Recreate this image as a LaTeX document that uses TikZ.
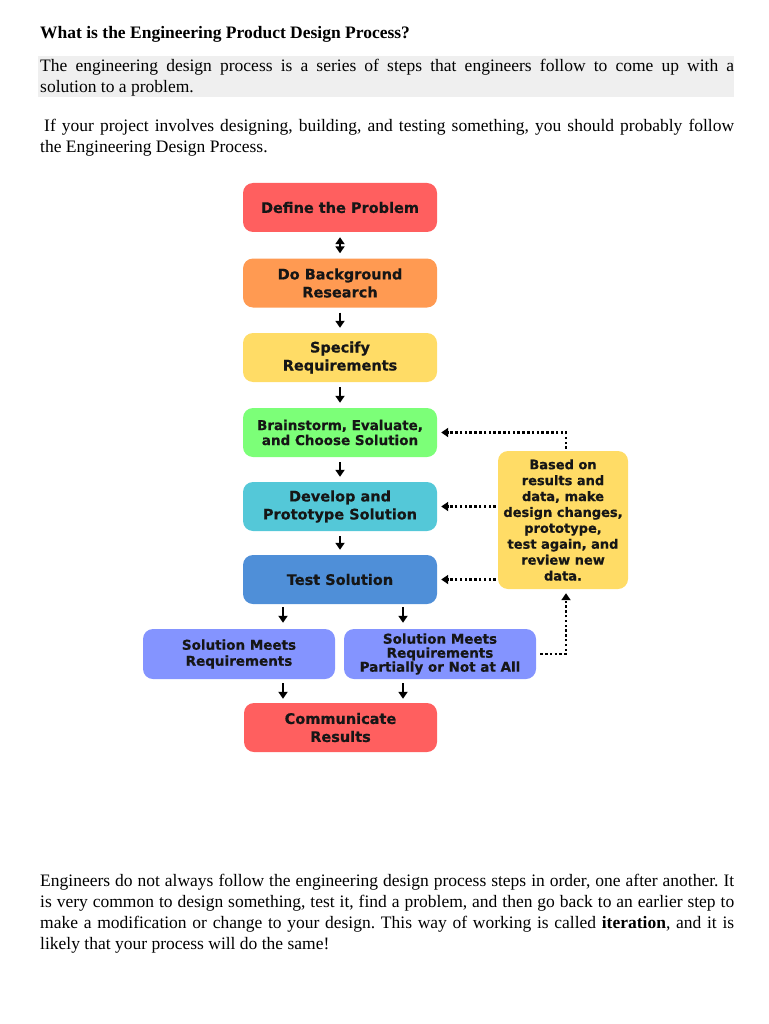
\documentclass[tikz,border=0pt]{standalone}
\usepackage{fontspec}
\setmainfont{Liberation Serif}
\newfontfamily\vfont{DejaVu Sans}[BoldFeatures={FakeBold=0.6}]
\usetikzlibrary{arrows.meta}
\definecolor{cRed}{HTML}{FF5F5F}
\definecolor{cOrange}{HTML}{FF9A52}
\definecolor{cYellow}{HTML}{FFDC66}
\definecolor{cGreen}{HTML}{7CFF78}
\definecolor{cCyan}{HTML}{54C8D8}
\definecolor{cBlue}{HTML}{4F8FD8}
\definecolor{cPeri}{HTML}{8494FF}
\definecolor{cBand}{HTML}{EFEFEF}
\definecolor{cText}{HTML}{161616}
\begin{document}
\frenchspacing
\begin{tikzpicture}[x=1pt,y=-1pt,
  stepbox/.style={fill=#1, rounded corners=10pt, minimum width=194pt, minimum height=49pt,
    inner sep=0pt, align=center, text=cText,
    font=\vfont\bfseries\fontsize{14.5}{18}\selectfont},
  smallbox/.style={stepbox=#1, font=\vfont\bfseries\fontsize{13.5}{15}\selectfont},
  outbox/.style={stepbox=#1, minimum width=192pt, minimum height=50pt},
  arr/.style={line width=2.2pt, -{Triangle[width=9pt,length=7pt]}, shorten <=5pt, shorten >=5pt},
  dots/.style={line width=2.5pt, dash pattern=on 2.5pt off 2.3pt, -{Triangle[width=9pt,length=7pt]}},
  bodyline/.style={anchor=base west, inner sep=0pt, font=\fontsize{17.5}{21}\selectfont}
]
\useasboundingbox (0,0) rectangle (768,1024);

% ---- text above ----
\node[bodyline] (title) at (40,39) {\textbf{What is the Engineering Product Design Process?}};
\fill[cBand] (38,56) rectangle (734,97);
\node[bodyline] (p1a) at (40,72) {\makebox[694pt][s]{The engineering design process is a series of steps that engineers follow to come up with a}};
\node[bodyline] (p1b) at (40,93) {solution to a problem.};
\node[bodyline] (p2a) at (40,132) {\makebox[694pt][s]{\hspace{4pt}If your project involves designing, building, and testing something, you should probably follow}};
\node[bodyline] (p2b) at (40,153) {the Engineering Design Process.};

% ---- diagram ----
\node[stepbox=cRed] (DP) at (340,207.5) {Define the Problem};
\node[stepbox=cOrange] (BG) at (340,283) {Do Background\\Research};
\node[stepbox=cYellow] (SR) at (340,357.5) {Specify\\Requirements};
\node[smallbox=cGreen] (BR) at (340,432.5) {Brainstorm, Evaluate,\\and Choose Solution};
\node[stepbox=cCyan] (DV) at (340,506.5) {Develop and\\Prototype Solution};
\node[stepbox=cBlue] (TS) at (340,579.5) {Test Solution};
\node[outbox=cPeri, font=\vfont\bfseries\fontsize{13.5}{16}\selectfont] (SM) at (239,654) {Solution Meets\\Requirements};
\node[outbox=cPeri, font=\vfont\bfseries\fontsize{13.5}{14}\selectfont] (SP) at (440,654) {Solution Meets\\Requirements\\Partially or Not at All};
\node[stepbox=cRed, minimum width=193pt] (CR) at (340.5,727.5) {Communicate\\Results};
\node[stepbox=cYellow, minimum width=130pt, minimum height=138pt,
      font=\vfont\bfseries\fontsize{13}{15.9}\selectfont] (BA) at (563,520)
  {Based on\\results and\\data, make\\design changes,\\prototype,\\test again, and\\review new\\data.};

\coordinate (xl) at (283,0);
\coordinate (xr) at (403,0);
\coordinate (xd) at (566,0);

\draw[arr, {Triangle[width=9pt,length=7pt]}-{Triangle[width=9pt,length=7pt]}] (DP) -- (BG);
\draw[arr] (BG) -- (SR);
\draw[arr] (SR) -- (BR);
\draw[arr] (BR) -- (DV);
\draw[arr] (DV) -- (TS);
\draw[arr, shorten <=3pt, shorten >=6pt] (TS.south -| xl) -- (SM.north -| xl);
\draw[arr, shorten <=3pt, shorten >=6pt] (TS.south -| xr) -- (SP.north -| xr);
\draw[arr, shorten <=4pt, shorten >=4pt] (SM.south -| xl) -- (CR.north -| xl);
\draw[arr, shorten <=4pt, shorten >=4pt] (SP.south -| xr) -- (CR.north -| xr);

\draw[dots, shorten <=2pt, shorten >=4pt] (BA.north -| xd) |- (BR.east);
\draw[dots, shorten <=2pt, shorten >=4pt] (BA.west |- DV.east) -- (DV.east);
\draw[dots, shorten <=2pt, shorten >=4pt] (BA.west |- TS.east) -- (TS.east);
\draw[dots, shorten <=4pt, shorten >=4pt] (SP.east) -| (BA.south -| xd);

% ---- text below ----
\node[bodyline] (p3a) at (40,886) {\makebox[694pt][s]{Engineers do not always follow the engineering design process steps in order, one after another. It}};
\node[bodyline] (p3b) at (40,907) {\makebox[694pt][s]{is very common to design something, test it, find a problem, and then go back to an earlier step to}};
\node[bodyline] (p3c) at (40,928) {\makebox[694pt][s]{make a modification or change to your design. This way of working is called \textbf{iteration}, and it is}};
\node[bodyline] (p3d) at (40,949) {likely that your process will do the same!};
\end{tikzpicture}
\end{document}
